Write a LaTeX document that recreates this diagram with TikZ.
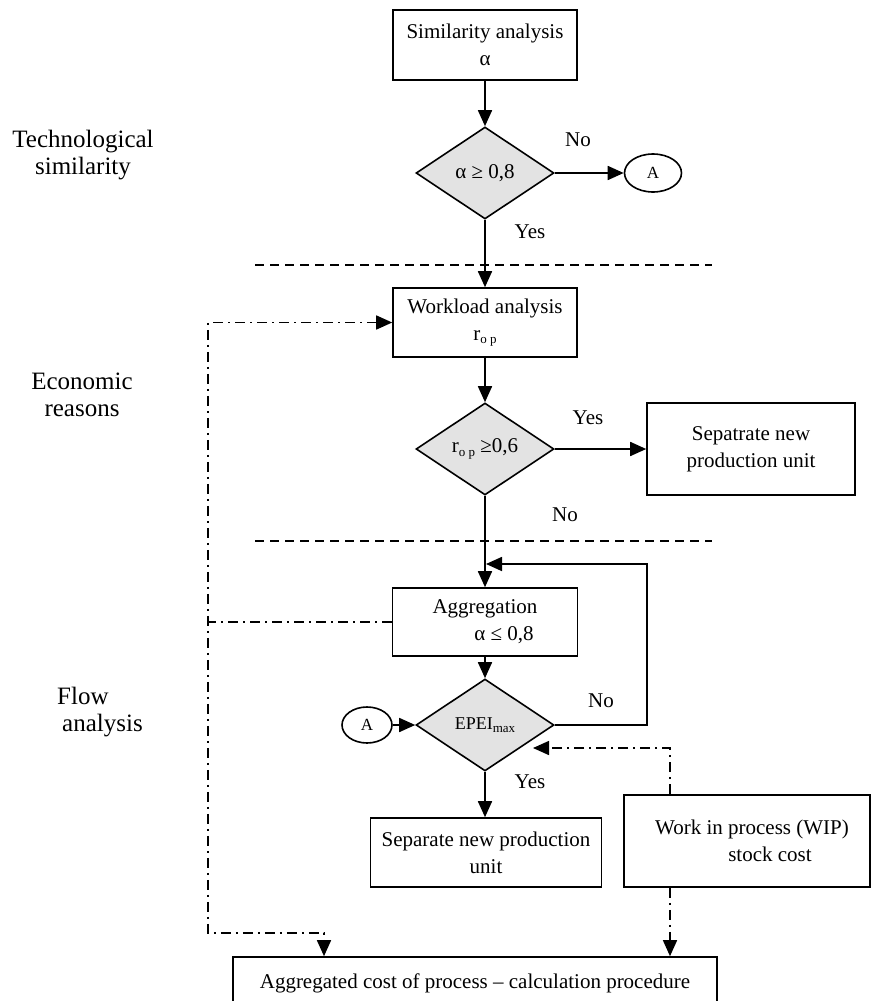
\documentclass[tikz,border=0pt]{standalone}
\usepackage{fontspec}
\setmainfont{Liberation Serif}
\usetikzlibrary{shapes.geometric,arrows.meta,calc}
\newcommand\lowidx[1]{\raisebox{-0.35ex}{\fontsize{13}{13}\selectfont #1}}
\begin{document}
\begin{tikzpicture}[x=1pt,y=-1pt,
  font=\fontsize{21}{27}\selectfont,
  procbox/.style={draw,line width=1.6pt,inner sep=0pt,align=center},
  decision/.style={diamond,draw,line width=1.6pt,fill=gray!22,inner sep=0pt,
    aspect=1.5,minimum width=138pt,minimum height=92pt},
  connector/.style={draw,line width=1.6pt,inner sep=0pt,ellipse,font=\fontsize{17}{17}\selectfont},
  conn/.style={line width=1.7pt,-{Triangle[length=16pt,width=14pt]}},
  feedline/.style={line width=1.5pt,dash pattern=on 10pt off 5pt on 2pt off 5pt},
  stageline/.style={line width=1.5pt,dash pattern=on 9pt off 6pt},
  stagetitle/.style={inner sep=0pt,font=\fontsize{25}{27}\selectfont},
  lbl/.style={inner sep=0pt}]
\useasboundingbox (0,0) rectangle (871,1001);
\clip (0,0) rectangle (871,1001);

% stage titles
\node[stagetitle,align=center] (st1) at (83,155) {Technological\\similarity};
\node[stagetitle,align=center] (st2) at (82,395) {Economic\\reasons};
\node[stagetitle,align=left,anchor=west] (st3) at (57,712) {Flow\\\hspace*{5pt}analysis};

% stage separators
\coordinate (s1a) at (255,265); \coordinate (s1b) at (712,265);
\coordinate (s2a) at (255,541); \coordinate (s2b) at (712,541);
\draw[stageline] (s1a) -- (s1b);
\draw[stageline] (s2a) -- (s2b);

% process steps
\node[procbox,minimum width=184pt,minimum height=70pt] (sim) at (485,45) {Similarity analysis\\α};
\node[decision] (d1) at (485,173) {α ≥ 0,8};
\node[connector,minimum width=57pt,minimum height=38pt] (a1) at (653,173) {A};
\node[procbox,minimum width=184pt,minimum height=69pt] (work) at (485,322.5) {Workload analysis\\r\lowidx{o p}};
\node[decision] (d2) at (485,449) {r\lowidx{o p} ≥0,6};
\node[procbox,minimum width=208pt,minimum height=92pt] (sep1) at (751,449) {Sepatrate new\\production unit};
\node[procbox,minimum width=185pt,minimum height=68pt] (agg) at (485,622) {Aggregation\\\hspace*{38pt}α ≤ 0,8};
\node[decision,font=\fontsize{18}{18}\selectfont] (d3) at (485,725) {EPEI\lowidx{max}};
\node[connector,minimum width=50pt,minimum height=36pt] (a2) at (367,725) {A};
\node[procbox,minimum width=231pt,minimum height=69pt] (sep2) at (486,852.5) {Separate new production\\unit};
\node[procbox,minimum width=246pt,minimum height=92pt] (wip) at (747,841) {\hspace*{10pt}Work in process (WIP)\\\hspace*{46pt}stock cost};
\node[procbox,minimum width=484pt,minimum height=52pt] (cost) at (475,983) {Aggregated cost of process – calculation procedure};

% branch labels
\node[lbl] (no1) at (578,140) {No};
\node[lbl] (yes1) at (530,232) {Yes};
\node[lbl] (yes2) at (588,418) {Yes};
\node[lbl] (no2) at (565,515) {No};
\node[lbl] (no3) at (601,701) {No};
\node[lbl] (yes3) at (530,782) {Yes};

% main flow
\draw[conn] (sim) -- (d1);
\draw[conn] (d1) -- (a1);
\draw[conn] (d1) -- (work);
\draw[conn] (work) -- (d2);
\draw[conn] (d2) -- (sep1);
\draw[conn] (d2) -- (agg);
\draw[conn] (agg) -- (d3);
\draw[conn] (a2) -- (d3);
\draw[conn] (d3.south) -- (d3.south |- sep2.north);

% repeat loop of the aggregation
\coordinate (loopc) at (647,564);
\coordinate (join) at (486,564);
\draw[conn] (d3.east) -| (loopc) -- (join);

% cost feedback paths
\coordinate (lcorner) at (208,933);
\coordinate (lin) at (324,0);
\coordinate (wx) at (670,0);
\coordinate (wtip) at (533,748);
\draw[feedline,{Triangle[length=16pt,width=14pt]}-{Triangle[length=16pt,width=14pt]}]
  (work.west) -| (lcorner) -| (cost.north -| lin);
\draw[feedline] (agg.west) -- (agg.west -| lcorner);
\draw[feedline,-{Triangle[length=16pt,width=14pt]}] (wip.north -| wx) |- (wtip);
\draw[feedline,-{Triangle[length=16pt,width=14pt]}] (wip.south -| wx) -- (cost.north -| wx);
\end{tikzpicture}
\end{document}
